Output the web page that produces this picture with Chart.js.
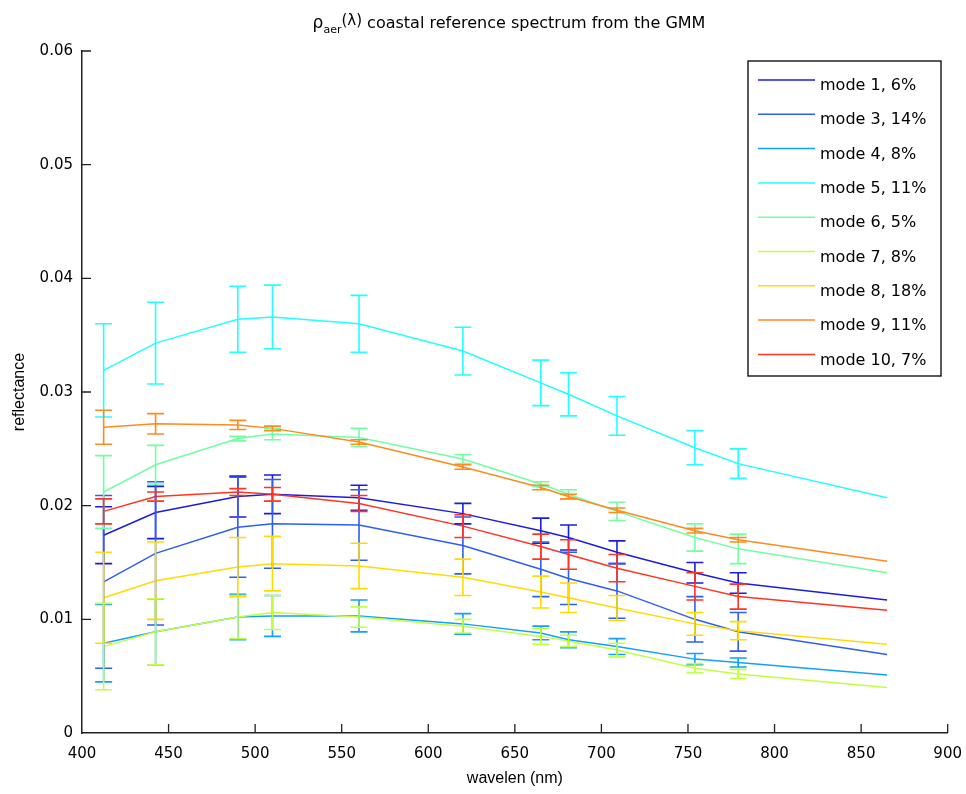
<!DOCTYPE html>
<html lang="en">

<head>
    <meta charset="UTF-8">
    <title>coastal reference spectrum</title>
    <script src="https://cdn.jsdelivr.net/npm/chart.js"></script>
    <style>
        body { margin: 0; background: #fff; }
    </style>
</head>

<body>
    <canvas id="myChart" width="966" height="794"></canvas>
    <script>
        // wavelengths (nm)
        const wavelengths = [412.5, 442.5, 490, 510, 560, 620, 665, 681, 709, 754, 779, 865];

        const labels = ['mode 1, 6%', 'mode 3, 14%', 'mode 4, 8%', 'mode 5, 11%', 'mode 6, 5%',
            'mode 7, 8%', 'mode 8, 18%', 'mode 9, 11%', 'mode 10, 7%'];
        const colors = ['#1c1ce0', '#2f5ef2', '#12a0ff', '#22ffff', '#72ffa2',
            '#c2ff42', '#ffdc00', '#ff8a1e', '#ff3422'];

        // reflectance per mode
        const mode1 = [0.0174, 0.0194, 0.0208, 0.0210, 0.0207, 0.0193, 0.0178, 0.0172, 0.0159, 0.0141, 0.0132, 0.0117];
        const mode3 = [0.0133, 0.0158, 0.0181, 0.0184, 0.0183, 0.0165, 0.0144, 0.0136, 0.0125, 0.0100, 0.0089, 0.0069];
        const mode4 = [0.0079, 0.0089, 0.0102, 0.0103, 0.0103, 0.0096, 0.0088, 0.0082, 0.0076, 0.0065, 0.0062, 0.0051];
        const mode5 = [0.0319, 0.0343, 0.0364, 0.0366, 0.0360, 0.0336, 0.0308, 0.0298, 0.0279, 0.0251, 0.0237, 0.0207];
        const mode6 = [0.0212, 0.0236, 0.0259, 0.0263, 0.0260, 0.0241, 0.0219, 0.0210, 0.0195, 0.0172, 0.0162, 0.0141];
        const mode7 = [0.0076, 0.0089, 0.0102, 0.0106, 0.0102, 0.0094, 0.0085, 0.0081, 0.0073, 0.0057, 0.0052, 0.0040];
        const mode8 = [0.0119, 0.0134, 0.0146, 0.0149, 0.0147, 0.0137, 0.0124, 0.0119, 0.0110, 0.0096, 0.0090, 0.0078];
        const mode9 = [0.0269, 0.0272, 0.0271, 0.0268, 0.0256, 0.0234, 0.0216, 0.0208, 0.0196, 0.0178, 0.0170, 0.0151];
        const mode10 = [0.0195, 0.0208, 0.0212, 0.0210, 0.0202, 0.0182, 0.0164, 0.0157, 0.0145, 0.0129, 0.0120, 0.0108];

        // error bar half widths (0 = no bar)
        const err1 = [0.0025, 0.0023, 0.0018, 0.0017, 0.0011, 0.0009, 0.0011, 0.0011, 0.0010, 0.0009, 0.0009, 0];
        const err3 = [0.0076, 0.0063, 0.0044, 0.0039, 0.0031, 0.0025, 0.0024, 0.0023, 0.0024, 0.0020, 0.0017, 0];
        const err4 = [0.0034, 0.0029, 0.0020, 0.0018, 0.0014, 0.0009, 0.0006, 0.0007, 0.0007, 0.0005, 0.0004, 0];
        const err5 = [0.0041, 0.0036, 0.0029, 0.0028, 0.0025, 0.0021, 0.0020, 0.0019, 0.0017, 0.0015, 0.0013, 0];
        const err6 = [0.0032, 0.0017, 0.0002, 0.0005, 0.0008, 0.0004, 0.0002, 0.0004, 0.0008, 0.0012, 0.0013, 0];
        const err7 = [0.0038, 0.0029, 0.0019, 0.0015, 0.0009, 0.0006, 0.0007, 0.0005, 0.0006, 0.0004, 0.0004, 0];
        const err8 = [0.0040, 0.0034, 0.0026, 0.0024, 0.0020, 0.0016, 0.0014, 0.0013, 0.0011, 0.0010, 0.0008, 0];
        const err9 = [0.0015, 0.0009, 0.0004, 0.0002, 0.0002, 0.0002, 0.0002, 0.0002, 0.0002, 0.0002, 0.0002, 0];
        const err10 = [0.0011, 0.0004, 0.0003, 0.0006, 0.0007, 0.0010, 0.0011, 0.0013, 0.0012, 0.0012, 0.0011, 0];

        const xTicks = [400, 450, 500, 550, 600, 650, 700, 750, 800, 850, 900];
        const yTicks = [0, 0.01, 0.02, 0.03, 0.04, 0.05, 0.06];

        const series = [mode1, mode3, mode4, mode5, mode6, mode7, mode8, mode9, mode10];
        const errors = [err1, err3, err4, err5, err6, err7, err8, err9, err10];

        const FONT = 'DejaVu Sans, sans-serif';
        const LABEL_FONT = 'Liberation Sans, Arial, sans-serif';

        const datasets = series.map((vals, i) => ({
            label: labels[i],
            data: vals.map((v, j) => ({ x: wavelengths[j], y: v })),
            borderColor: colors[i],
            backgroundColor: colors[i],
            borderWidth: 1.5,
            pointRadius: 0,
            tension: 0,
            order: series.length - i,
            errors: errors[i]
        }));

        // error bars, drawn with the chart scales
        const errorBars = {
            id: 'errorBars',
            afterDatasetsDraw(chart) {
                const ctx = chart.ctx;
                const xs = chart.scales.x, ys = chart.scales.y;
                ctx.save();
                ctx.lineWidth = 1.6;
                chart.data.datasets.forEach(ds => {
                    ctx.strokeStyle = ds.borderColor;
                    ds.data.forEach((p, j) => {
                        const e = ds.errors[j];
                        if (!e) return;
                        const px = xs.getPixelForValue(p.x);
                        const top = ys.getPixelForValue(p.y + e);
                        const bot = ys.getPixelForValue(p.y - e);
                        ctx.beginPath();
                        ctx.moveTo(px, top); ctx.lineTo(px, bot);
                        ctx.moveTo(px - 8.5, top); ctx.lineTo(px + 8.5, top);
                        ctx.moveTo(px - 8.5, bot); ctx.lineTo(px + 8.5, bot);
                        ctx.stroke();
                    });
                });
                ctx.restore();
            }
        };

        // inward ticks, title and boxed legend
        const decorations = {
            id: 'decorations',
            afterDraw(chart) {
                const ctx = chart.ctx;
                const xs = chart.scales.x, ys = chart.scales.y;
                const area = chart.chartArea;
                ctx.save();
                ctx.strokeStyle = '#222';
                ctx.lineWidth = 1.3;
                ctx.beginPath();
                xTicks.slice(1).forEach(t => {
                    const px = xs.getPixelForValue(t);
                    ctx.moveTo(px, area.bottom); ctx.lineTo(px, area.bottom - 9);
                });
                yTicks.slice(1).forEach(t => {
                    const py = ys.getPixelForValue(t);
                    ctx.moveTo(area.left, py); ctx.lineTo(area.left + 9, py);
                });
                ctx.stroke();

                // title with subscript
                ctx.fillStyle = '#000';
                ctx.textBaseline = 'alphabetic';
                const parts = [
                    { t: 'ρ', size: 17, dy: 0 },
                    { t: 'aer', size: 11, dy: 5 },
                    { t: '(λ)', size: 15, dy: -3 },
                    { t: ' coastal reference spectrum from the GMM', size: 16, dy: 0 }
                ];
                let total = 0;
                parts.forEach(p => { ctx.font = p.size + 'px ' + FONT; p.w = ctx.measureText(p.t).width; total += p.w; });
                let tx = 509 - total / 2;
                parts.forEach(p => {
                    ctx.font = p.size + 'px ' + FONT;
                    ctx.fillText(p.t, tx, 28 + p.dy);
                    tx += p.w;
                });

                // legend
                const lx = 748, ly = 61, lw = 193, lh = 315;
                ctx.fillStyle = '#fff';
                ctx.fillRect(lx, ly, lw, lh);
                ctx.strokeStyle = '#000';
                ctx.lineWidth = 1.3;
                ctx.strokeRect(lx, ly, lw, lh);
                ctx.font = '16px ' + FONT;
                ctx.textBaseline = 'middle';
                chart.data.datasets.forEach((ds, i) => {
                    const y = 80 + i * 34.3;
                    ctx.strokeStyle = ds.borderColor;
                    ctx.lineWidth = 1.5;
                    ctx.beginPath();
                    ctx.moveTo(758, y); ctx.lineTo(815, y);
                    ctx.stroke();
                    ctx.fillStyle = '#000';
                    ctx.fillText(ds.label, 820, y + 6);
                });
                ctx.restore();
            }
        };

        const config = {
            type: 'line',
            data: { datasets },
            options: {
                responsive: false,
                animation: false,
                layout: { padding: { top: 51, right: 17, left: 0, bottom: 0 } },
                plugins: {
                    legend: { display: false },
                    tooltip: { enabled: false }
                },
                scales: {
                    x: {
                        type: 'linear',
                        min: 400,
                        max: 900,
                        afterFit: s => { s.height = 61; },
                        afterBuildTicks: s => { s.ticks = xTicks.map(v => ({ value: v })); },
                        grid: { display: false },
                        border: { display: true, color: '#222', width: 1.5 },
                        ticks: { color: '#000', padding: 4, maxRotation: 0, font: { family: FONT, size: 15 } },
                        title: { display: true, text: 'wavelen (nm)', color: '#000', padding: { bottom: 6 }, font: { family: LABEL_FONT, size: 16 } }
                    },
                    y: {
                        min: 0,
                        max: 0.06,
                        afterFit: s => { s.width = 82; },
                        afterBuildTicks: s => { s.ticks = yTicks.map(v => ({ value: v })); },
                        grid: { display: false },
                        border: { display: true, color: '#222', width: 1.5 },
                        ticks: {
                            color: '#000', padding: 1, font: { family: FONT, size: 15 },
                            callback: v => v === 0 ? '0' : v.toFixed(2)
                        },
                        title: { display: true, text: 'reflectance', color: '#000', padding: { top: 10 }, font: { family: LABEL_FONT, size: 16 } }
                    }
                }
            },
            plugins: [errorBars, decorations]
        };

        new Chart(document.getElementById('myChart'), config);
    </script>
</body>

</html>
